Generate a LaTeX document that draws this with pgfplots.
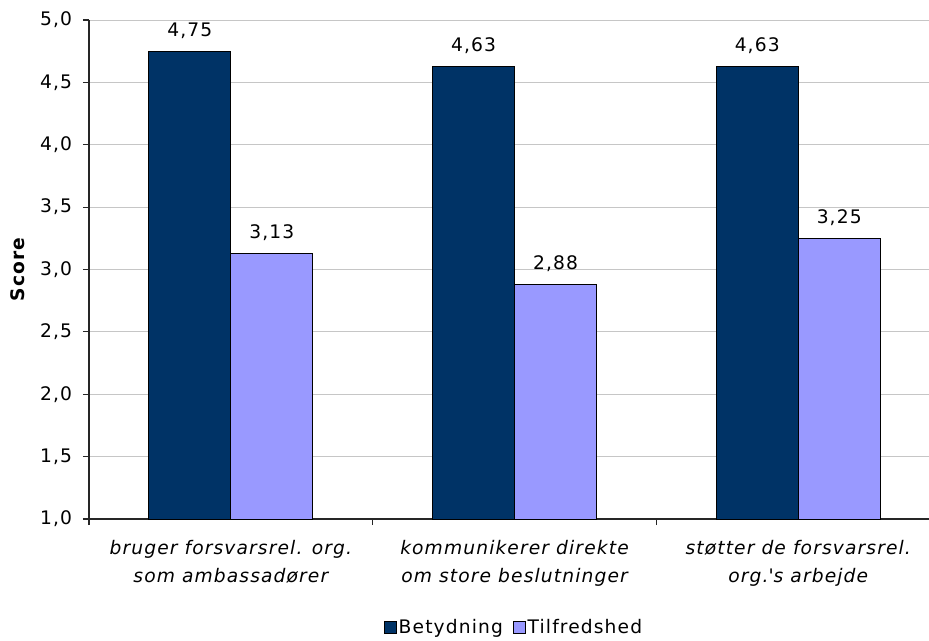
\documentclass[border=0pt]{standalone}
\usepackage{pgfplots}
\pgfplotsset{compat=1.18}
\usepackage{fontspec}
\setmainfont{DejaVu Sans}[LetterSpace=6]
\definecolor{darkbar}{HTML}{003366}
\definecolor{lightbar}{HTML}{9999FF}
\pgfkeys{/pgf/number format/assume math mode=true}
\begin{document}
\begin{tikzpicture}
\useasboundingbox (-66.75pt,-90.75pt) rectangle (630pt,389.25pt);
\begin{axis}[
  at={(0,0)}, anchor=south west,
  scale only axis, width=630pt, height=374.25pt,
  font=\fontsize{14}{21}\selectfont,
  ymin=1, ymax=5, xmin=-0.5, xmax=2.461,
  ybar=0pt, bar width=0.289,
  axis x line*=bottom, axis y line*=left,
  axis line style={black!85, line width=0.8pt},
  tick style={black!85, line width=0.8pt},
  tick align=outside, major tick length=4.5pt,
  ytick={1,1.5,2,2.5,3,3.5,4,4.5,5},
  ymajorgrids, grid style={gray!45, line width=0.6pt},
  yticklabel style={/pgf/number format/.cd, fixed, fixed zerofill, precision=1, use comma, /tikz/.cd, anchor=east, inner sep=0pt, xshift=-8pt},
  xtick={-0.5,0.5,1.5}, xticklabels={},
  extra x ticks={0,1,2},
  extra x tick labels={{bruger forsvarsrel. org.\\som ambassadører},{kommunikerer direkte\\om store beslutninger},{støtter de forsvarsrel.\\org.\textquotesingle s arbejde}},
  extra x tick style={major tick length=0pt, tick label style={align=center, font=\fontsize{14}{21}\selectfont\itshape, anchor=north, inner sep=0pt, yshift=-16pt}},
  ylabel={Score},
  ylabel style={at={(axis description cs:-0.085,0.5)}, anchor=center, font=\fontsize{14}{17}\selectfont\bfseries},
  nodes near coords,
  nodes near coords style={/pgf/number format/.cd, fixed, fixed zerofill, precision=2, use comma, /tikz/.cd, anchor=base, inner sep=0pt, yshift=11pt, black},
  legend style={at={(0.506,-0.218)}, anchor=center, draw=none, legend columns=2, font=\fontsize{14}{17}\selectfont,
    /tikz/every even column/.append style={column sep=6pt}, nodes={inner sep=1.5pt}},
  legend image code/.code={\draw[#1, draw=black, line width=0.6pt] (0pt,-4.5pt) rectangle (9pt,4.5pt);},
]
\addplot[fill=darkbar, draw=black, line width=0.75pt] coordinates {(0,4.75) (1,4.63) (2,4.63)};
\addplot[fill=lightbar, draw=black, line width=0.75pt] coordinates {(0,3.13) (1,2.88) (2,3.25)};
\legend{Betydning, Tilfredshed}
\end{axis}
\end{tikzpicture}
\end{document}
